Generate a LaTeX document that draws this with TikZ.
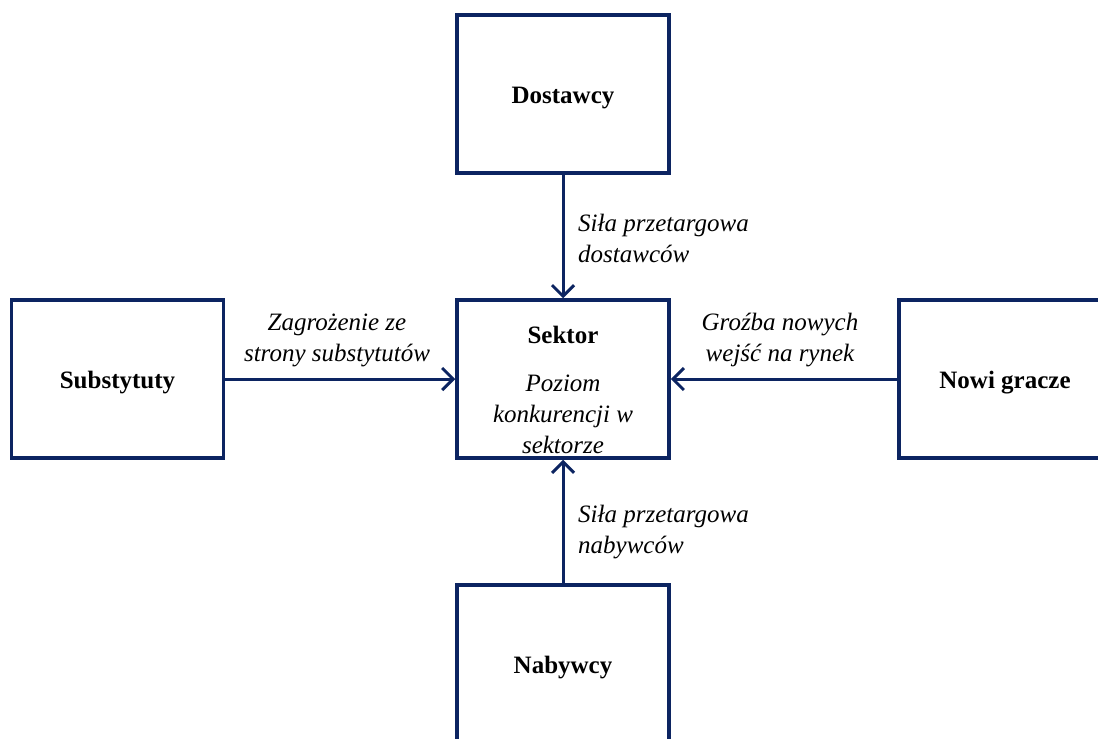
\documentclass[tikz,border=0pt]{standalone}
\usepackage{fontspec}
\setmainfont{Liberation Serif}
\usetikzlibrary{arrows.meta}
\definecolor{navy}{RGB}{12,36,97}
\tikzset{
  force/.style={draw=navy, line width=3.5pt, fill=white, minimum width=212pt, minimum height=158pt, inner sep=0pt, text height=18pt, text depth=0pt, font=\fontsize{25}{30}\selectfont\bfseries},
  pressure/.style={draw=navy, line width=3pt, -{Straight Barb[length=11pt, width=22pt]}},
  forcelabel/.style={inner sep=0pt, font=\fontsize{25}{31}\selectfont\itshape},
}
\begin{document}
\begin{tikzpicture}[x=1pt, y=-1pt]
  \useasboundingbox (0,0) rectangle (1098,739);
  \clip (0,0) rectangle (1098,739);
  \fill[white] (0,0) rectangle (1098,739);

  % the five forces
  \node[force] (dostawcy) at (563,94) {Dostawcy};
  \node[force] (sektor) at (563,379) {};
  \node[force] (substytuty) at (117.5,379) {Substytuty};
  \node[force] (nowi) at (1005,379) {Nowi gracze};
  \node[force] (nabywcy) at (563,664) {Nabywcy};

  % text inside the central box
  \node[inner sep=0pt, font=\fontsize{25}{30}\selectfont\bfseries] (sektortitle) at (563,335) {Sektor};
  \node[forcelabel, align=center] (sektordesc) at (563,414) {Poziom\\konkurencji w\\sektorze};

  % pressures acting on the sector
  \draw[pressure] (dostawcy.south) -- (sektor.north);
  \draw[pressure] (nabywcy.north) -- (sektor.south);
  \draw[pressure] (substytuty.east) -- (sektor.west);
  \draw[pressure] (nowi.west) -- (sektor.east);

  % arrow labels
  \node[forcelabel, align=left, anchor=west] (ldostawcy) at (578,238) {Siła przetargowa\\dostawców};
  \node[forcelabel, align=left, anchor=west] (lnabywcy) at (578,532) {Siła przetargowa\\nabywców};
  \node[forcelabel, align=center] (lsubstytuty) at (337,340) {Zagrożenie ze\\strony substytutów};
  \node[forcelabel, align=center] (lnowi) at (780,340) {Groźba nowych\\wejść na rynek};
\end{tikzpicture}
\end{document}
